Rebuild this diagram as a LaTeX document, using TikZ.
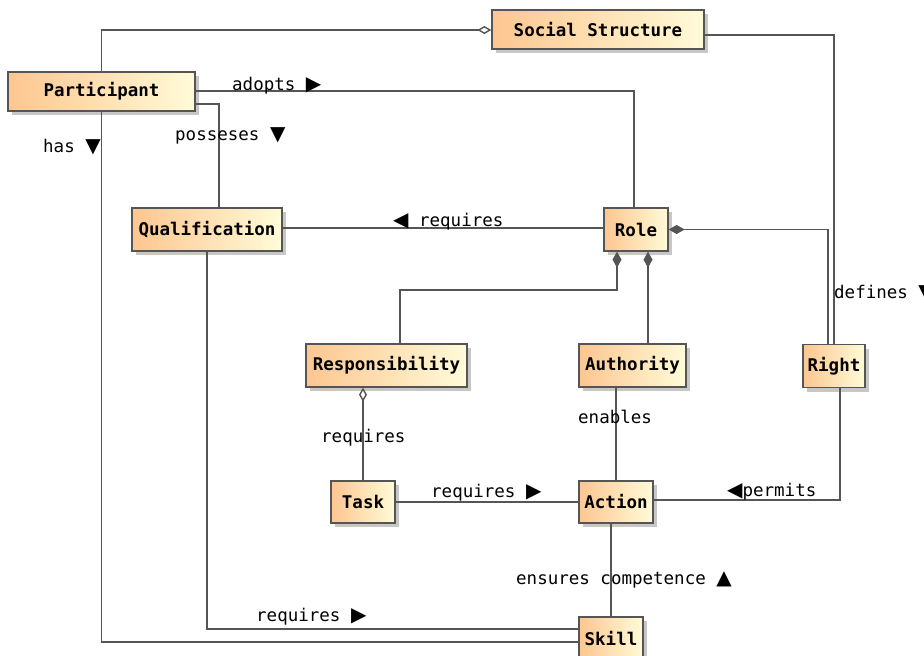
\documentclass[tikz,border=0pt]{standalone}
\usepackage{fontspec}
\setmonofont{DejaVu Sans Mono}
\newfontfamily\symfont{DejaVu Sans}
\usetikzlibrary{arrows.meta,shadows,calc}

\definecolor{boxleft}{HTML}{FDC690}
\definecolor{boxright}{HTML}{FFFBD8}
\definecolor{edge}{HTML}{555555}

\tikzset{
  cls/.style={draw=edge, line width=1.3pt, left color=boxleft, right color=boxright,
    font=\ttfamily\bfseries\fontsize{17.5}{20}\selectfont, inner sep=0pt,
    drop shadow={shadow xshift=4pt, shadow yshift=-4pt, fill=black, opacity=0.22}},
  link/.style={draw=edge, line width=1.4pt},
  lbl/.style={font=\ttfamily\fontsize{17.5}{20}\selectfont, inner sep=0pt, anchor=base west},
  comp/.style={{Diamond[length=16pt,width=9pt]}-},
  aggr/.style={{Diamond[open,length=14pt,width=8pt,fill=white]}-},
}
\newcommand\tright{{\symfont\fontsize{20}{20}\selectfont ▶}}
\newcommand\tleft{{\symfont\fontsize{20}{20}\selectfont ◀}}
\newcommand\tdown{{\symfont\fontsize{20}{20}\selectfont ▼}}
\newcommand\tup{{\symfont\fontsize{20}{20}\selectfont ▲}}

\begin{document}
\begin{tikzpicture}[x=1pt, y=-1pt]
  \path[use as bounding box, clip] (0,0) rectangle (924,656);
  \fill[white] (0,0) rectangle (924,656);

  % classes
  \node[cls, minimum width=212pt, minimum height=39pt] (ss)     at (598,29.5)  {Social Structure};
  \node[cls, minimum width=187pt, minimum height=39pt] (part)   at (101.5,91.5) {Participant};
  \node[cls, minimum width=150pt, minimum height=43pt] (qual)   at (207,229.5)  {Qualification};
  \node[cls, minimum width=64pt,  minimum height=43pt] (role)   at (636,229.5)  {Role};
  \node[cls, minimum width=161pt, minimum height=43pt] (resp)   at (386.5,365.5) {Responsibility};
  \node[cls, minimum width=107pt, minimum height=43pt] (auth)   at (632.5,365.5) {Authority};
  \node[cls, minimum width=62pt,  minimum height=43pt] (right)  at (834,366)    {Right};
  \node[cls, minimum width=64pt,  minimum height=42pt] (task)   at (363,502)    {Task};
  \node[cls, minimum width=74pt,  minimum height=42pt] (action) at (616,502)    {Action};
  \node[cls, minimum width=64pt,  minimum height=43pt] (skill)  at (611,638.5)  {Skill};

  % associations
  \draw[link, aggr] (ss.west |- 0,30) -| (part.north);
  \draw[link] (ss.east |- 0,35) -| (right.north);
  \draw[link] (part.east |- 0,91) -| (role.north -| 634,0);
  \draw[link] (part.east |- 0,104) -| (qual.north -| 219,0);
  \draw[link] (part.south) |- (skill.west |- 0,642);
  \draw[link] (qual.east |- 0,228) -- (role.west |- 0,228);
  \draw[link] (qual.south) |- (skill.west |- 0,629);
  \draw[link, comp] (role.south -| 617,0) |- (400,290) -- (resp.north -| 400,0);
  \draw[link, comp] (role.south -| 648,0) -- (auth.north -| 648,0);
  \draw[link, comp] (role.east) -| (right.north -| 828,0);
  \draw[link, aggr] (resp.south -| task.north) -- (task.north);
  \draw[link] (auth.south -| action.north) -- (action.north);
  \draw[link] (task.east) -- (action.west);
  \draw[link] (right.south -| 840,0) |- (action.east |- 0,500);
  \draw[link] (action.south -| skill.north) -- (skill.north);

  % association labels
  \node[lbl] (ladopts)  at (232,90)  {adopts \tright};
  \node[lbl] (lposs)    at (175,140) {posseses \tdown};
  \node[lbl] (lhas)     at (43,152)  {has \tdown};
  \node[lbl] (lqreq)    at (393,226) {\tleft\ requires};
  \node[lbl] (ldef)     at (834,298) {defines \tdown};
  \node[lbl] (lrreq)    at (321,442) {requires};
  \node[lbl] (lenab)    at (578,423) {enables};
  \node[lbl] (ltreq)    at (431,497) {requires \tright};
  \node[lbl] (lperm)    at (727,496) {\tleft permits};
  \node[lbl] (lens)     at (516,584) {ensures competence \tup};
  \node[lbl] (lsreq)    at (256,621) {requires \tright};
\end{tikzpicture}
\end{document}
